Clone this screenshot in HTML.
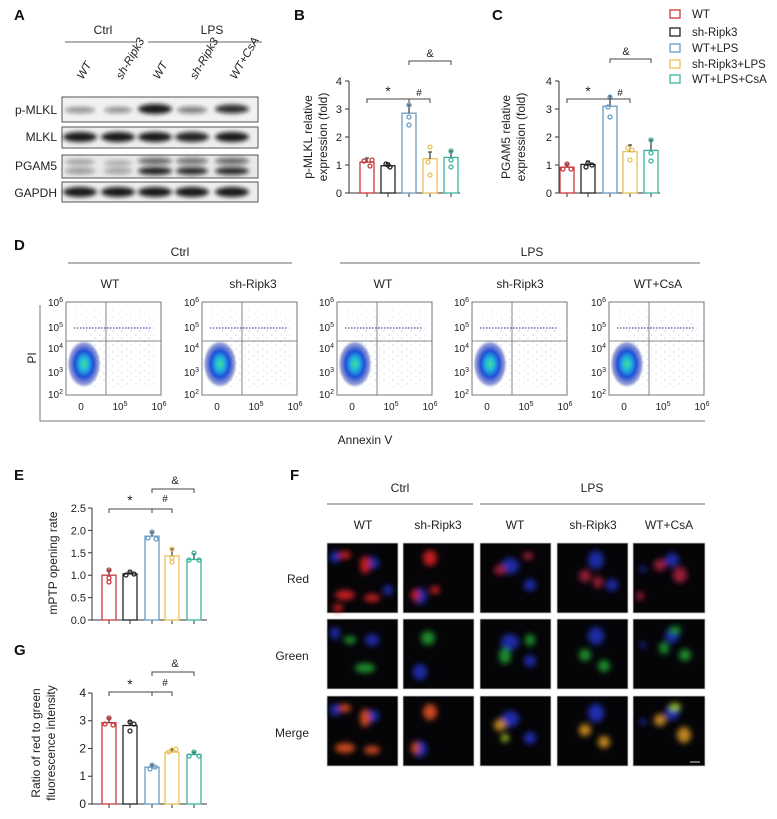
<!DOCTYPE html>
<html><head><meta charset="utf-8"><style>
body{margin:0;background:#fff}
svg{display:block;font-family:"Liberation Sans",Arial,sans-serif}
</style></head><body>
<svg width="777" height="819" viewBox="0 0 777 819" xmlns="http://www.w3.org/2000/svg">
<defs>
<filter id="bl" x="-50%" y="-50%" width="200%" height="200%"><feGaussianBlur stdDeviation="2.2"/></filter>
<filter id="bl2" x="-50%" y="-50%" width="200%" height="200%"><feGaussianBlur stdDeviation="3"/></filter>
<radialGradient id="blob" cx="50%" cy="50%" r="50%">
<stop offset="0" stop-color="#3fe08a"/><stop offset="0.25" stop-color="#20b8e0"/><stop offset="0.55" stop-color="#2050d8"/><stop offset="0.85" stop-color="#3040b0" stop-opacity="0.5"/><stop offset="1" stop-color="#8090d0" stop-opacity="0"/></radialGradient>
<pattern id="sc" width="9" height="7" patternUnits="userSpaceOnUse">
<circle cx="2" cy="1" r="0.5" fill="#7080c0"/><circle cx="7" cy="5" r="0.5" fill="#9aa4d0"/></pattern>
<g id="flow">
<rect x="0" y="0" width="95" height="93" fill="none" stroke="#777" stroke-width="1"/>
<rect x="20" y="25" width="70" height="60" fill="url(#sc)" opacity="0.7"/>
<rect x="8" y="5" width="80" height="30" fill="url(#sc)" opacity="0.5"/>
<line x1="8" y1="26" x2="85" y2="26" stroke="#4050b0" stroke-width="2" stroke-dasharray="1.5 1.5" opacity="0.6"/>
<ellipse cx="18" cy="62" rx="17" ry="24" fill="url(#blob)"/>
<line x1="0" y1="39" x2="95" y2="39" stroke="#666" stroke-width="0.8"/>
<line x1="40" y1="0" x2="40" y2="93" stroke="#666" stroke-width="0.8"/>
<g font-size="10" fill="#222" text-anchor="end">
<text x="-3" y="4">10<tspan font-size="7" dy="-4">6</tspan></text>
<text x="-3" y="29">10<tspan font-size="7" dy="-4">5</tspan></text>
<text x="-3" y="50">10<tspan font-size="7" dy="-4">4</tspan></text>
<text x="-3" y="74">10<tspan font-size="7" dy="-4">3</tspan></text>
<text x="-3" y="96">10<tspan font-size="7" dy="-4">2</tspan></text>
</g>
<g font-size="10" fill="#222" text-anchor="middle">
<text x="15" y="108">0</text>
<text x="54" y="108">10<tspan font-size="7" dy="-4">5</tspan></text>
<text x="93" y="108">10<tspan font-size="7" dy="-4">6</tspan></text>
</g>
</g>
</defs>

<!-- Panel letters -->
<g font-weight="bold" font-size="15" fill="#111">
<text x="14" y="20">A</text><text x="294" y="20">B</text><text x="492" y="20">C</text>
<text x="14" y="250">D</text><text x="14" y="480">E</text><text x="290" y="480">F</text><text x="14" y="655">G</text>
</g>

<!-- Panel A -->
<g font-size="12" fill="#222">
<text x="103" y="34" text-anchor="middle">Ctrl</text>
<text x="212" y="34" text-anchor="middle">LPS</text>
<line x1="65" y1="42" x2="137" y2="42" stroke="#666"/>
<line x1="148" y1="42" x2="262" y2="42" stroke="#666"/>
<g font-style="italic" font-size="11.5">
<text transform="translate(83,80) rotate(-60)">WT</text>
<text transform="translate(122,80) rotate(-60)">sh-Ripk3</text>
<text transform="translate(159,80) rotate(-60)">WT</text>
<text transform="translate(196,80) rotate(-60)">sh-Ripk3</text>
<text transform="translate(236,80) rotate(-60)">WT+CsA</text>
</g>
<g text-anchor="end" font-size="12">
<text x="57" y="114">p-MLKL</text><text x="57" y="141">MLKL</text><text x="57" y="170">PGAM5</text><text x="57" y="197">GAPDH</text>
</g>
</g>
<g>
<rect x="62" y="97" width="196" height="25" fill="#f1f1f1" stroke="#555"/>
<rect x="62" y="127" width="196" height="21" fill="#eee" stroke="#555"/>
<rect x="62" y="155" width="196" height="23" fill="#e8e8e8" stroke="#555"/>
<rect x="62" y="182" width="196" height="20" fill="#eee" stroke="#555"/>
<g filter="url(#bl)" fill="#111">
<ellipse cx="80" cy="110" rx="15" ry="3" opacity="0.45"/>
<ellipse cx="118" cy="110" rx="14" ry="3" opacity="0.45"/>
<ellipse cx="155" cy="109" rx="17" ry="5" opacity="0.95"/>
<ellipse cx="192" cy="110" rx="15" ry="3.5" opacity="0.5"/>
<ellipse cx="232" cy="109" rx="17" ry="4.5" opacity="0.85"/>
<ellipse cx="80" cy="137" rx="17" ry="5" opacity="0.95"/>
<ellipse cx="118" cy="137" rx="17" ry="5" opacity="0.95"/>
<ellipse cx="155" cy="137" rx="17" ry="5" opacity="0.95"/>
<ellipse cx="192" cy="137" rx="17" ry="5" opacity="0.9"/>
<ellipse cx="232" cy="137" rx="17" ry="5" opacity="0.95"/>
<ellipse cx="80" cy="162" rx="15" ry="3" opacity="0.3"/>
<ellipse cx="80" cy="171" rx="15" ry="3" opacity="0.4"/>
<ellipse cx="118" cy="163" rx="14" ry="3" opacity="0.25"/>
<ellipse cx="118" cy="171" rx="14" ry="3" opacity="0.35"/>
<ellipse cx="155" cy="161" rx="17" ry="3.5" opacity="0.6"/>
<ellipse cx="155" cy="171" rx="17" ry="4" opacity="0.9"/>
<ellipse cx="192" cy="161" rx="16" ry="3.5" opacity="0.55"/>
<ellipse cx="192" cy="171" rx="16" ry="4" opacity="0.85"/>
<ellipse cx="232" cy="161" rx="17" ry="3.5" opacity="0.6"/>
<ellipse cx="232" cy="171" rx="17" ry="4" opacity="0.85"/>
<ellipse cx="80" cy="192" rx="17" ry="5" opacity="0.95"/>
<ellipse cx="118" cy="192" rx="17" ry="5" opacity="0.95"/>
<ellipse cx="155" cy="192" rx="17" ry="5" opacity="0.95"/>
<ellipse cx="192" cy="192" rx="17" ry="5" opacity="0.95"/>
<ellipse cx="232" cy="192" rx="17" ry="5" opacity="0.95"/>
</g>
</g>

<!-- Panel B -->
<g font-size="11" fill="#222">
<line x1="349" y1="81" x2="349" y2="193" stroke="#333"/>
<line x1="349" y1="193" x2="460" y2="193" stroke="#333"/>
<g stroke="#333"><line x1="345" y1="193" x2="349" y2="193"/><line x1="345" y1="165" x2="349" y2="165"/><line x1="345" y1="137" x2="349" y2="137"/><line x1="345" y1="109" x2="349" y2="109"/><line x1="345" y1="81" x2="349" y2="81"/>
<line x1="367" y1="193" x2="367" y2="197"/><line x1="388" y1="193" x2="388" y2="197"/><line x1="409" y1="193" x2="409" y2="197"/><line x1="430" y1="193" x2="430" y2="197"/><line x1="451" y1="193" x2="451" y2="197"/></g>
<g text-anchor="end"><text x="342" y="197">0</text><text x="342" y="169">1</text><text x="342" y="141">2</text><text x="342" y="113">3</text><text x="342" y="85">4</text></g>
<text transform="translate(312,137) rotate(-90)" text-anchor="middle" font-size="12">p-MLKL relative</text>
<text transform="translate(327,137) rotate(-90)" text-anchor="middle" font-size="12">expression (fold)</text>
<g fill="none" stroke-width="1.3">
<rect x="360" y="162.2" width="14" height="30.8" stroke="#c8373a"/>
<rect x="381" y="165.8" width="14" height="27.2" stroke="#222"/>
<rect x="402" y="113.2" width="14" height="79.8" stroke="#6a9cc4"/>
<rect x="423" y="158.8" width="14" height="34.2" stroke="#e8c15a"/>
<rect x="444" y="157.4" width="14" height="35.6" stroke="#3bb39e"/>
<path d="M367 162v-4m-2 0h4M388 166v-3m-2 0h4M409 113v-8m-2 0h4M430 159v-7m-2 0h4M451 157v-6m-2 0h4" stroke="#444"/>
<circle cx="364" cy="161" r="2" stroke="#c8373a"/><circle cx="370" cy="166" r="2" stroke="#c8373a"/><circle cx="372" cy="160" r="2" stroke="#c8373a"/>
<circle cx="386" cy="164" r="2" stroke="#222"/><circle cx="390" cy="167" r="2" stroke="#222"/><circle cx="388" cy="165" r="2" stroke="#222"/>
<circle cx="409" cy="105" r="2" stroke="#6a9cc4"/><circle cx="409" cy="117" r="2" stroke="#6a9cc4"/><circle cx="409" cy="125" r="2" stroke="#6a9cc4"/>
<circle cx="430" cy="147" r="2" stroke="#e8c15a"/><circle cx="428" cy="162" r="2" stroke="#e8c15a"/><circle cx="430" cy="175" r="2" stroke="#e8c15a"/>
<circle cx="451" cy="151" r="2" stroke="#3bb39e"/><circle cx="451" cy="160" r="2" stroke="#3bb39e"/><circle cx="451" cy="167" r="2" stroke="#3bb39e"/>
<path d="M367 103v-4h42v4M409 103v-4h21v4M409 65v-4h42v4" stroke="#444" stroke-width="1"/>
</g>
<text x="388" y="96" text-anchor="middle" font-size="14">*</text>
<text x="419" y="96" text-anchor="middle" font-size="10">#</text>
<text x="430" y="57" text-anchor="middle" font-size="11">&amp;</text>
</g>

<!-- Panel C -->
<g font-size="11" fill="#222">
<line x1="559" y1="81" x2="559" y2="193" stroke="#333"/>
<line x1="559" y1="193" x2="660" y2="193" stroke="#333"/>
<g stroke="#333"><line x1="555" y1="193" x2="559" y2="193"/><line x1="555" y1="165" x2="559" y2="165"/><line x1="555" y1="137" x2="559" y2="137"/><line x1="555" y1="109" x2="559" y2="109"/><line x1="555" y1="81" x2="559" y2="81"/>
<line x1="567" y1="193" x2="567" y2="197"/><line x1="588" y1="193" x2="588" y2="197"/><line x1="610" y1="193" x2="610" y2="197"/><line x1="630" y1="193" x2="630" y2="197"/><line x1="651" y1="193" x2="651" y2="197"/></g>
<g text-anchor="end"><text x="552" y="197">0</text><text x="552" y="169">1</text><text x="552" y="141">2</text><text x="552" y="113">3</text><text x="552" y="85">4</text></g>
<text transform="translate(510,137) rotate(-90)" text-anchor="middle" font-size="12">PGAM5 relative</text>
<text transform="translate(525,137) rotate(-90)" text-anchor="middle" font-size="12">expression (fold)</text>
<g fill="none" stroke-width="1.3">
<rect x="560" y="167.2" width="14" height="25.8" stroke="#c8373a"/>
<rect x="581" y="164.4" width="14" height="28.6" stroke="#222"/>
<rect x="603" y="106.2" width="14" height="86.8" stroke="#6a9cc4"/>
<rect x="623" y="151.6" width="14" height="41.4" stroke="#e8c15a"/>
<rect x="644" y="150.4" width="14" height="42.6" stroke="#3bb39e"/>
<path d="M567 167v-3m-2 0h4M588 164v-3m-2 0h4M610 106v-10m-2 0h4M630 152v-7m-2 0h4M651 150v-10m-2 0h4" stroke="#444"/>
<circle cx="567" cy="164" r="2" stroke="#c8373a"/><circle cx="563" cy="169" r="2" stroke="#c8373a"/><circle cx="571" cy="169" r="2" stroke="#c8373a"/>
<circle cx="588" cy="163" r="2" stroke="#222"/><circle cx="592" cy="165" r="2" stroke="#222"/><circle cx="586" cy="167" r="2" stroke="#222"/>
<circle cx="610" cy="97" r="2" stroke="#6a9cc4"/><circle cx="608" cy="107" r="2" stroke="#6a9cc4"/><circle cx="610" cy="117" r="2" stroke="#6a9cc4"/>
<circle cx="628" cy="148" r="2" stroke="#e8c15a"/><circle cx="632" cy="150" r="2" stroke="#e8c15a"/><circle cx="630" cy="160" r="2" stroke="#e8c15a"/>
<circle cx="651" cy="140" r="2" stroke="#3bb39e"/><circle cx="651" cy="153" r="2" stroke="#3bb39e"/><circle cx="651" cy="161" r="2" stroke="#3bb39e"/>
<path d="M567 103v-4h43v4M610 103v-4h20v4M610 63v-4h41v4" stroke="#444" stroke-width="1"/>
</g>
<text x="588" y="96" text-anchor="middle" font-size="14">*</text>
<text x="620" y="96" text-anchor="middle" font-size="10">#</text>
<text x="626" y="55" text-anchor="middle" font-size="11">&amp;</text>
</g>

<!-- Legend -->
<g font-size="11.5" fill="#222">
<rect x="670" y="10" width="10" height="8" fill="none" stroke="#c8373a" stroke-width="1.3"/><text x="692" y="18">WT</text>
<rect x="670" y="28" width="10" height="8" fill="none" stroke="#222" stroke-width="1.3"/><text x="692" y="36">sh-Ripk3</text>
<rect x="670" y="44" width="10" height="8" fill="none" stroke="#6a9cc4" stroke-width="1.3"/><text x="692" y="52">WT+LPS</text>
<rect x="670" y="60" width="10" height="8" fill="none" stroke="#e8c15a" stroke-width="1.3"/><text x="692" y="68">sh-Ripk3+LPS</text>
<rect x="670" y="75" width="10" height="8" fill="none" stroke="#3bb39e" stroke-width="1.3"/><text x="692" y="83">WT+LPS+CsA</text>
</g>

<!-- Panel D -->
<g font-size="12" fill="#222">
<text x="180" y="256" text-anchor="middle">Ctrl</text>
<text x="532" y="256" text-anchor="middle">LPS</text>
<line x1="68" y1="263" x2="292" y2="263" stroke="#666"/>
<line x1="340" y1="263" x2="700" y2="263" stroke="#666"/>
<text x="110" y="288" text-anchor="middle">WT</text>
<text x="253" y="288" text-anchor="middle">sh-Ripk3</text>
<text x="383" y="288" text-anchor="middle">WT</text>
<text x="520" y="288" text-anchor="middle">sh-Ripk3</text>
<text x="658" y="288" text-anchor="middle">WT+CsA</text>
<path d="M40 305V421H705" fill="none" stroke="#777"/>
<text transform="translate(36,358) rotate(-90)" text-anchor="middle">PI</text>
<text x="365" y="444" text-anchor="middle">Annexin V</text>
</g>
<use href="#flow" x="66" y="302"/>
<use href="#flow" x="202" y="302"/>
<use href="#flow" x="337" y="302"/>
<use href="#flow" x="472" y="302"/>
<use href="#flow" x="609" y="302"/>

<!-- Panel E -->
<g font-size="11" fill="#222">
<line x1="92" y1="508" x2="92" y2="620" stroke="#333"/>
<line x1="92" y1="620" x2="207" y2="620" stroke="#333"/>
<g stroke="#333"><line x1="88" y1="620" x2="92" y2="620"/><line x1="88" y1="597.6" x2="92" y2="597.6"/><line x1="88" y1="575.2" x2="92" y2="575.2"/><line x1="88" y1="552.8" x2="92" y2="552.8"/><line x1="88" y1="530.4" x2="92" y2="530.4"/><line x1="88" y1="508" x2="92" y2="508"/>
<line x1="109" y1="620" x2="109" y2="624"/><line x1="130" y1="620" x2="130" y2="624"/><line x1="152" y1="620" x2="152" y2="624"/><line x1="172" y1="620" x2="172" y2="624"/><line x1="194" y1="620" x2="194" y2="624"/></g>
<g text-anchor="end"><text x="86" y="624">0.0</text><text x="86" y="601.6">0.5</text><text x="86" y="579.2">1.0</text><text x="86" y="556.8">1.5</text><text x="86" y="534.4">2.0</text><text x="86" y="512">2.5</text></g>
<text transform="translate(57,563) rotate(-90)" text-anchor="middle" font-size="12">mPTP opening rate</text>
<g fill="none" stroke-width="1.3">
<rect x="102" y="575.2" width="14" height="44.8" stroke="#c8373a"/>
<rect x="123" y="573.9" width="14" height="46.1" stroke="#222"/>
<rect x="145" y="536.2" width="14" height="83.8" stroke="#6a9cc4"/>
<rect x="165" y="555.9" width="14" height="64.1" stroke="#e8c15a"/>
<rect x="187" y="559.5" width="14" height="60.5" stroke="#3bb39e"/>
<path d="M109 575v-5m-2 0h4M130 574v-2m-2 0h4M152 536v-4m-2 0h4M172 556v-7m-2 0h4M194 559v-5m-2 0h4" stroke="#444"/>
<circle cx="109" cy="570" r="2" stroke="#c8373a"/><circle cx="109" cy="578" r="2" stroke="#c8373a"/><circle cx="109" cy="582" r="2" stroke="#c8373a"/>
<circle cx="126" cy="575" r="2" stroke="#222"/><circle cx="130" cy="572" r="2" stroke="#222"/><circle cx="134" cy="574" r="2" stroke="#222"/>
<circle cx="152" cy="532" r="2" stroke="#6a9cc4"/><circle cx="148" cy="538" r="2" stroke="#6a9cc4"/><circle cx="156" cy="539" r="2" stroke="#6a9cc4"/>
<circle cx="172" cy="549" r="2" stroke="#e8c15a"/><circle cx="172" cy="558" r="2" stroke="#e8c15a"/><circle cx="172" cy="562" r="2" stroke="#e8c15a"/>
<circle cx="194" cy="553" r="2" stroke="#3bb39e"/><circle cx="189" cy="560" r="2" stroke="#3bb39e"/><circle cx="199" cy="560" r="2" stroke="#3bb39e"/>
<path d="M109 513v-4h43v4M152 513v-4h20v4M152 493v-4h42v4" stroke="#444" stroke-width="1"/>
</g>
<text x="130" y="505" text-anchor="middle" font-size="14">*</text>
<text x="165" y="502" text-anchor="middle" font-size="10">#</text>
<text x="175" y="484" text-anchor="middle" font-size="11">&amp;</text>
</g>

<!-- Panel G -->
<g font-size="11" fill="#222">
<line x1="92" y1="693" x2="92" y2="804" stroke="#333"/>
<line x1="92" y1="804" x2="207" y2="804" stroke="#333"/>
<g stroke="#333"><line x1="88" y1="804" x2="92" y2="804"/><line x1="88" y1="776.25" x2="92" y2="776.25"/><line x1="88" y1="748.5" x2="92" y2="748.5"/><line x1="88" y1="720.75" x2="92" y2="720.75"/><line x1="88" y1="693" x2="92" y2="693"/>
<line x1="109" y1="804" x2="109" y2="808"/><line x1="130" y1="804" x2="130" y2="808"/><line x1="152" y1="804" x2="152" y2="808"/><line x1="172" y1="804" x2="172" y2="808"/><line x1="194" y1="804" x2="194" y2="808"/></g>
<g text-anchor="end" font-size="12"><text x="86" y="808">0</text><text x="86" y="780">1</text><text x="86" y="752.5">2</text><text x="86" y="724.7">3</text><text x="86" y="697">4</text></g>
<text transform="translate(40,743) rotate(-90)" text-anchor="middle" font-size="12">Ratio of red to green</text>
<text transform="translate(55,743) rotate(-90)" text-anchor="middle" font-size="12">fluorescence intensity</text>
<g fill="none" stroke-width="1.3">
<rect x="102" y="722.7" width="14" height="81.3" stroke="#c8373a"/>
<rect x="123" y="725.5" width="14" height="78.5" stroke="#222"/>
<rect x="145" y="767.1" width="14" height="36.9" stroke="#6a9cc4"/>
<rect x="165" y="752.1" width="14" height="51.9" stroke="#e8c15a"/>
<rect x="187" y="754.6" width="14" height="49.4" stroke="#3bb39e"/>
<path d="M109 723v-5m-2 0h4M130 725v-4m-2 0h4M152 767v-2m-2 0h4M172 752v-3m-2 0h4M194 755v-3m-2 0h4" stroke="#444"/>
<circle cx="109" cy="718" r="2" stroke="#c8373a"/><circle cx="105" cy="724" r="2" stroke="#c8373a"/><circle cx="113" cy="725" r="2" stroke="#c8373a"/>
<circle cx="130" cy="722" r="2" stroke="#222"/><circle cx="134" cy="724" r="2" stroke="#222"/><circle cx="130" cy="731" r="2" stroke="#222"/>
<circle cx="152" cy="765" r="2" stroke="#6a9cc4"/><circle cx="155" cy="767" r="2" stroke="#6a9cc4"/><circle cx="150" cy="769" r="2" stroke="#6a9cc4"/>
<circle cx="169" cy="752" r="2" stroke="#e8c15a"/><circle cx="172" cy="750" r="2" stroke="#e8c15a"/><circle cx="176" cy="749" r="2" stroke="#e8c15a"/>
<circle cx="194" cy="752" r="2" stroke="#3bb39e"/><circle cx="189" cy="756" r="2" stroke="#3bb39e"/><circle cx="199" cy="756" r="2" stroke="#3bb39e"/>
<path d="M109 696v-4h43v4M152 696v-4h20v4M152 676v-4h42v4" stroke="#444" stroke-width="1"/>
</g>
<text x="130" y="689" text-anchor="middle" font-size="14">*</text>
<text x="165" y="686" text-anchor="middle" font-size="10">#</text>
<text x="175" y="667" text-anchor="middle" font-size="11">&amp;</text>
</g>

<!-- Panel F -->
<g font-size="12" fill="#222">
<text x="400" y="492" text-anchor="middle">Ctrl</text>
<text x="592" y="492" text-anchor="middle">LPS</text>
<line x1="327" y1="504" x2="473" y2="504" stroke="#999" stroke-width="1.5"/>
<line x1="480" y1="504" x2="705" y2="504" stroke="#999" stroke-width="1.5"/>
<text x="363" y="529" text-anchor="middle">WT</text>
<text x="438" y="529" text-anchor="middle">sh-Ripk3</text>
<text x="515" y="529" text-anchor="middle">WT</text>
<text x="593" y="529" text-anchor="middle">sh-Ripk3</text>
<text x="669" y="529" text-anchor="middle">WT+CsA</text>
<text x="298" y="583" text-anchor="middle">Red</text>
<text x="292" y="660" text-anchor="middle">Green</text>
<text x="292" y="737" text-anchor="middle">Merge</text>
</g>
<g>
<g fill="#050508" stroke="#ccc" stroke-width="0.8">
<rect x="327" y="543" width="71" height="70"/><rect x="403" y="543" width="71" height="70"/><rect x="480" y="543" width="71" height="70"/><rect x="557" y="543" width="71" height="70"/><rect x="633" y="543" width="72" height="70"/>
<rect x="327" y="619" width="71" height="70"/><rect x="403" y="619" width="71" height="70"/><rect x="480" y="619" width="71" height="70"/><rect x="557" y="619" width="71" height="70"/><rect x="633" y="619" width="72" height="70"/>
<rect x="327" y="696" width="71" height="70"/><rect x="403" y="696" width="71" height="70"/><rect x="480" y="696" width="71" height="70"/><rect x="557" y="696" width="71" height="70"/><rect x="633" y="696" width="72" height="70"/>
</g>
<!-- Red row -->
<g filter="url(#bl2)" opacity="0.85">
<g fill="#2030c0"><ellipse cx="335" cy="557" rx="5" ry="6"/><ellipse cx="372" cy="563" rx="7" ry="6"/><ellipse cx="388" cy="590" rx="5" ry="5"/><ellipse cx="420" cy="596" rx="7" ry="8"/><ellipse cx="510" cy="566" rx="9" ry="8"/><ellipse cx="530" cy="585" rx="6" ry="6"/><ellipse cx="596" cy="560" rx="8" ry="9"/><ellipse cx="612" cy="585" rx="6" ry="6"/><ellipse cx="672" cy="560" rx="7" ry="7"/><ellipse cx="643" cy="569" rx="3" ry="3"/></g>
<g fill="#e02020"><ellipse cx="345" cy="555" rx="6" ry="4"/><ellipse cx="365" cy="565" rx="5" ry="9"/><ellipse cx="345" cy="595" rx="10" ry="5"/><ellipse cx="338" cy="608" rx="5" ry="4"/><ellipse cx="372" cy="598" rx="8" ry="4"/><ellipse cx="430" cy="558" rx="7" ry="8"/><ellipse cx="415" cy="595" rx="4" ry="6"/><ellipse cx="435" cy="590" rx="5" ry="4"/></g>
<g fill="#b02040"><ellipse cx="500" cy="570" rx="6" ry="5"/><ellipse cx="528" cy="556" rx="5" ry="4"/><ellipse cx="585" cy="576" rx="6" ry="6"/><ellipse cx="598" cy="582" rx="5" ry="6"/><ellipse cx="660" cy="565" rx="6" ry="6"/><ellipse cx="680" cy="575" rx="7" ry="8"/><ellipse cx="640" cy="596" rx="4" ry="4"/></g>
</g>
<!-- Green row -->
<g filter="url(#bl2)" opacity="0.85">
<g fill="#2030c0"><ellipse cx="335" cy="633" rx="5" ry="6"/><ellipse cx="372" cy="640" rx="7" ry="6"/><ellipse cx="420" cy="672" rx="7" ry="8"/><ellipse cx="510" cy="642" rx="9" ry="8"/><ellipse cx="530" cy="661" rx="6" ry="6"/><ellipse cx="596" cy="636" rx="8" ry="9"/><ellipse cx="672" cy="636" rx="7" ry="7"/><ellipse cx="643" cy="645" rx="3" ry="3"/></g>
<g fill="#20a030"><ellipse cx="350" cy="640" rx="6" ry="4"/><ellipse cx="365" cy="668" rx="10" ry="5"/><ellipse cx="428" cy="638" rx="7" ry="7"/><ellipse cx="505" cy="656" rx="6" ry="8"/><ellipse cx="530" cy="640" rx="5" ry="6"/><ellipse cx="585" cy="655" rx="6" ry="6"/><ellipse cx="604" cy="666" rx="6" ry="6"/><ellipse cx="675" cy="630" rx="6" ry="4"/><ellipse cx="664" cy="648" rx="5" ry="6"/><ellipse cx="685" cy="655" rx="6" ry="6"/></g>
</g>
<!-- Merge row -->
<g filter="url(#bl2)" opacity="0.9">
<g fill="#2030c0"><ellipse cx="335" cy="710" rx="5" ry="6"/><ellipse cx="372" cy="716" rx="7" ry="6"/><ellipse cx="420" cy="749" rx="7" ry="8"/><ellipse cx="510" cy="719" rx="9" ry="8"/><ellipse cx="530" cy="738" rx="6" ry="6"/><ellipse cx="596" cy="713" rx="8" ry="9"/><ellipse cx="672" cy="713" rx="7" ry="7"/><ellipse cx="643" cy="722" rx="3" ry="3"/></g>
<g fill="#e05020"><ellipse cx="345" cy="708" rx="6" ry="4"/><ellipse cx="365" cy="718" rx="5" ry="9"/><ellipse cx="345" cy="748" rx="10" ry="5"/><ellipse cx="372" cy="750" rx="8" ry="4"/><ellipse cx="430" cy="712" rx="7" ry="8"/><ellipse cx="415" cy="748" rx="4" ry="6"/></g>
<g fill="#d09020"><ellipse cx="500" cy="725" rx="6" ry="6"/><ellipse cx="585" cy="730" rx="6" ry="6"/><ellipse cx="604" cy="742" rx="6" ry="6"/><ellipse cx="660" cy="720" rx="6" ry="6"/><ellipse cx="684" cy="735" rx="7" ry="8"/></g>
<g fill="#a0d020"><ellipse cx="675" cy="707" rx="6" ry="4"/><ellipse cx="505" cy="738" rx="4" ry="4"/></g>
</g>
<line x1="690" y1="762" x2="700" y2="762" stroke="#ddd" stroke-width="1"/>
</g>
</svg>
</body></html>
